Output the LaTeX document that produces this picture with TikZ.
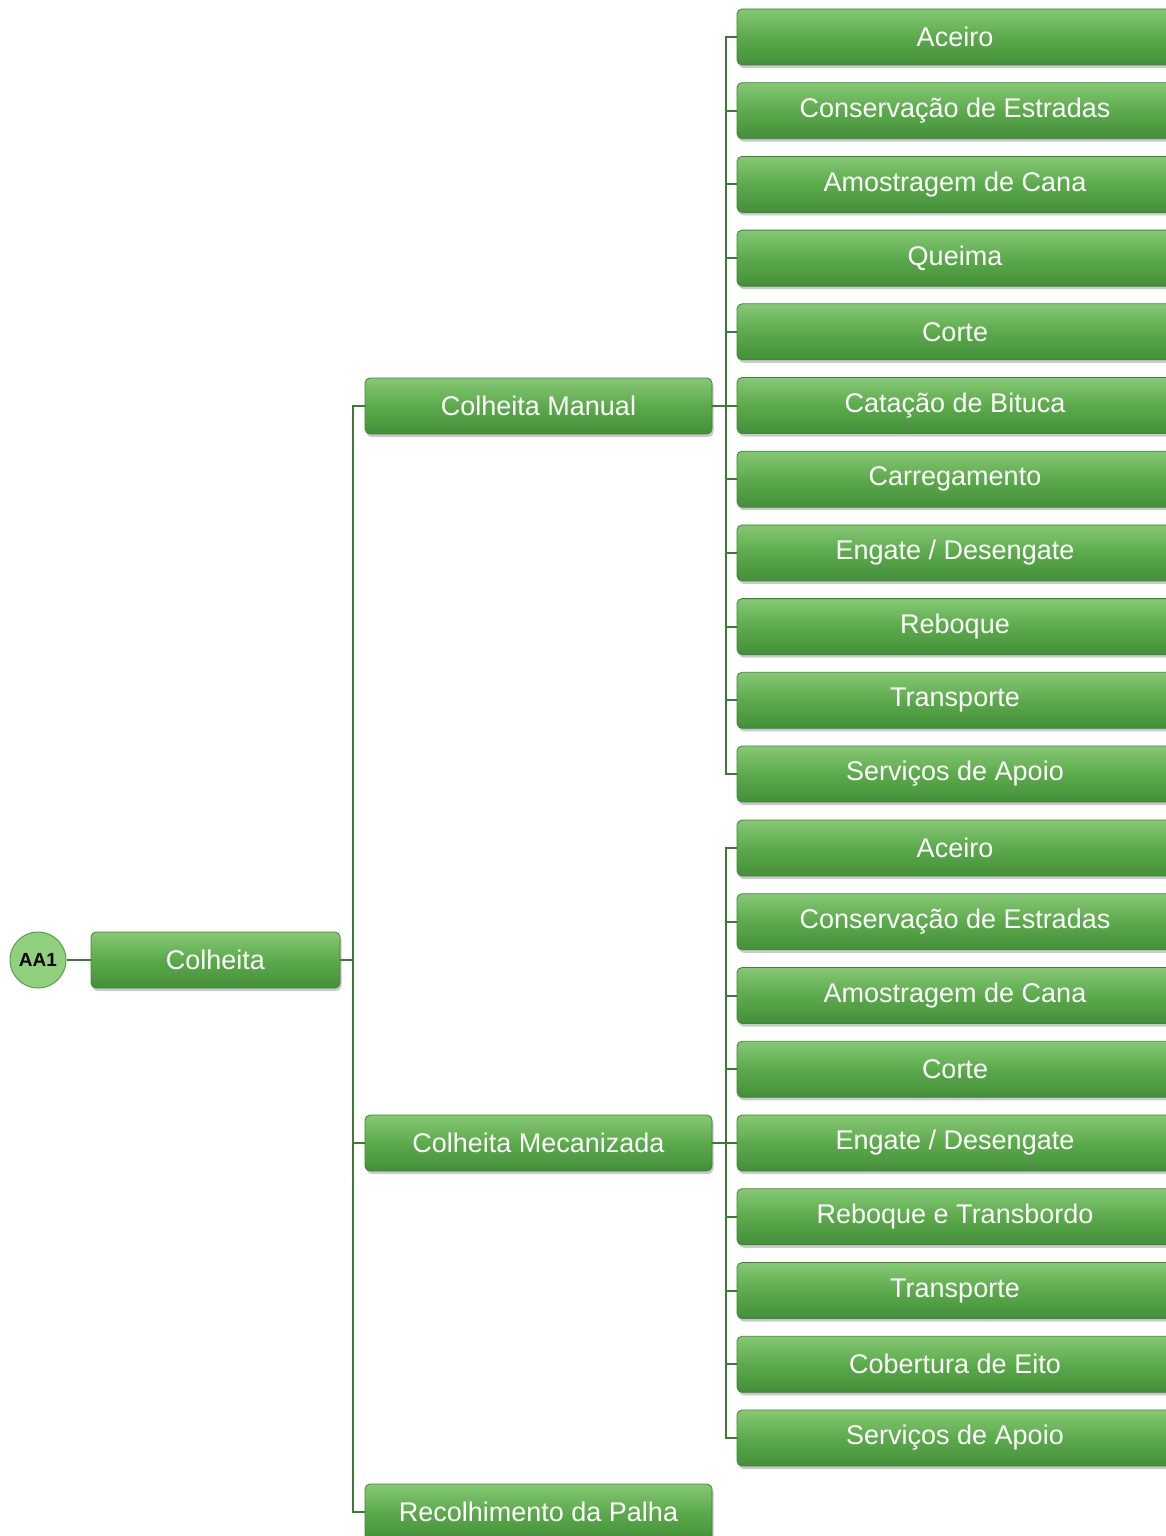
\documentclass[tikz,border=0pt]{standalone}
\usepackage{fontspec}
\setmainfont{Liberation Sans}
\usetikzlibrary{shadows}
\definecolor{boxtop}{HTML}{86C874}
\definecolor{boxmid}{HTML}{5CAA4C}
\definecolor{boxbot}{HTML}{438F3A}
\definecolor{boxedge}{HTML}{3E8436}
\definecolor{linkcol}{HTML}{3C7A35}
\definecolor{rootfill}{HTML}{8FD07F}
\definecolor{rootedge}{HTML}{5C9C50}
\tikzset{
  greenbox/.style={draw=boxedge, line width=0.8pt, rounded corners=5pt,
    top color=boxtop, bottom color=boxbot, middle color=boxmid,
    text=white, inner sep=0pt, minimum height=56,
    font=\fontsize{27}{32}\selectfont,
    drop shadow={opacity=0.35, shadow xshift=1.5pt, shadow yshift=-3pt, fill=black!60}},
  leafbox/.style={greenbox, minimum width=436},
  midbox/.style={greenbox, minimum width=347},
  rootnode/.style={circle, draw=rootedge, line width=1pt, fill=rootfill,
    minimum size=56, inner sep=0pt, font=\fontsize{19}{22}\selectfont\bfseries},
  link/.style={draw=linkcol, line width=2pt},
}
\begin{document}
\begin{tikzpicture}[x=1pt, y=-1pt]
\useasboundingbox (0,0) rectangle (1166,1536);
\clip (0,0) rectangle (1166,1536);

% root and first level
\node[rootnode] (aa1) at (38,960) {AA1};
\node[greenbox, minimum width=249] (colheita) at (215.5,960) {Colheita};

% second level
\node[midbox] (manual) at (538.5,406) {Colheita Manual};
\node[midbox] (mecan) at (538.5,1143) {Colheita Mecanizada};
\node[midbox] (palha) at (538.5,1512) {Recolhimento da Palha};

% leaves of Colheita Manual
\foreach \i/\t in {0/Aceiro, 1/Conservação de Estradas, 2/Amostragem de Cana,
  3/Queima, 4/Corte, 5/Catação de Bituca, 6/Carregamento,
  7/{Engate / Desengate}, 8/Reboque, 9/Transporte, 10/Serviços de Apoio}
  \node[leafbox] (m\i) at (955,37+73.7*\i) {\t};

% leaves of Colheita Mecanizada
\foreach \i/\t in {0/Aceiro, 1/Conservação de Estradas, 2/Amostragem de Cana,
  3/Corte, 4/{Engate / Desengate}, 5/Reboque e Transbordo, 6/Transporte,
  7/Cobertura de Eito, 8/Serviços de Apoio}
  \node[leafbox] (z\i) at (955,848+73.75*\i) {\t};

% connectors
\draw[link] (aa1.east) -- (colheita.west);

\coordinate (j1) at ([xshift=13pt]colheita.east);
\draw[link] (colheita.east) -- (j1);
\foreach \n in {manual, mecan, palha}
  \draw[link] (j1) |- (\n.west);

\coordinate (j2) at ([xshift=14pt]manual.east);
\draw[link] (manual.east) -- (j2);
\foreach \i in {0,...,10}
  \draw[link] (j2) |- (m\i.west);

\coordinate (j3) at ([xshift=14pt]mecan.east);
\draw[link] (mecan.east) -- (j3);
\foreach \i in {0,...,8}
  \draw[link] (j3) |- (z\i.west);
\end{tikzpicture}
\end{document}
